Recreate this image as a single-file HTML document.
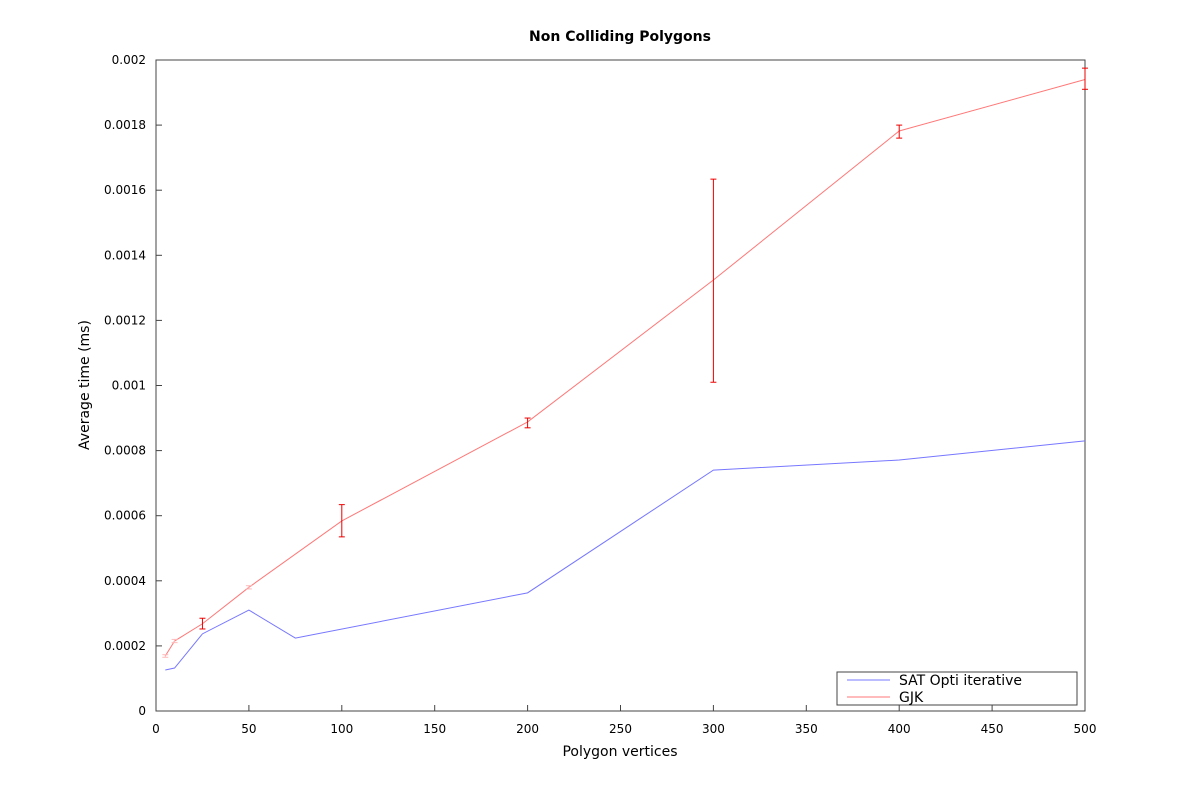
<!DOCTYPE html>
<html><head><meta charset="utf-8"><style>
body{margin:0;background:#fff;}
svg text{font-family:"DejaVu Sans","Liberation Sans",sans-serif;}
</style></head><body>
<svg id="chart" width="1200" height="800" xmlns="http://www.w3.org/2000/svg">
<rect width="1200" height="800" fill="#fff"/>
<text x="620" y="41" text-anchor="middle" font-size="14" font-weight="bold">Non Colliding Polygons</text>
<g id="axes"></g>
<g id="series"></g>
<rect x="837" y="672" width="240" height="33" fill="#fff" stroke="#444"/>
<line x1="847" y1="680" x2="890" y2="680" stroke="#7777ff"/>
<text x="899" y="685" font-size="14">SAT Opti iterative</text>
<line x1="847" y1="697" x2="890" y2="697" stroke="#ff7777"/>
<text x="899" y="702" font-size="14">GJK</text>
<text x="620" y="756" text-anchor="middle" font-size="14">Polygon vertices</text>
<text transform="translate(89,385) rotate(-90)" text-anchor="middle" font-size="14">Average time (ms)</text>
</svg>
<script>
const xTicks=[0,50,100,150,200,250,300,350,400,450,500];
const yTicks=[0,0.0002,0.0004,0.0006,0.0008,0.001,0.0012,0.0014,0.0016,0.0018,0.002];
const yTickLabels=["0","0.0002","0.0004","0.0006","0.0008","0.001","0.0012","0.0014","0.0016","0.0018","0.002"];
const satX=[5,10,25,50,75,200,300,400,500];
const satY=[0.000126,0.000132,0.000237,0.00031,0.000224,0.000363,0.00074,0.000771,0.00083];
const gjkX=[5,10,25,50,100,200,300,400,500];
const gjkY=[0.000169,0.000215,0.000268,0.00038,0.000584,0.000888,0.001324,0.001782,0.00194];
const gjkLo=[0.000165,0.00021,0.000252,0.000375,0.000535,0.00087,0.00101,0.00176,0.00191];
const gjkHi=[0.000173,0.00022,0.000285,0.000385,0.000634,0.0009,0.001634,0.0018,0.001975];
const L=156,R=1085,T=60,B=711;
const sx=v=>L+v/500*(R-L);
const sy=v=>B-v/0.002*(B-T);
const NS="http://www.w3.org/2000/svg";
function mk(tag,attrs,parent,text){const e=document.createElementNS(NS,tag);for(const k in attrs)e.setAttribute(k,attrs[k]);if(text!==undefined)e.textContent=text;parent.appendChild(e);return e;}
const axes=document.getElementById('axes'),ser=document.getElementById('series');
const frame=mk('rect',{x:L,y:T,width:R-L,height:B-T,fill:'none',stroke:'#444'},axes);


xTicks.forEach(t=>{
  const x=sx(t);
  const l=mk('line',{x1:x,y1:B,x2:x,y2:B-6,stroke:'#444'},axes);
  
  
  const tx=mk('text',{x:x,y:B+22,'text-anchor':'middle','font-size':12},axes,String(t));
  
  
});
yTicks.forEach((t,i)=>{
  const y=sy(t);
  const l=mk('line',{x1:L,y1:y,x2:L+6,y2:y,stroke:'#444'},axes);
  
  
  const tx=mk('text',{x:L-10,y:y+4,'text-anchor':'end','font-size':12},axes,yTickLabels[i]);
  
  
});
const gp=mk('polyline',{points:gjkX.map((x,i)=>sx(x)+','+sy(gjkY[i])).join(' '),fill:'none',stroke:'#ff7777','stroke-width':1},ser);


gjkX.forEach((x,i)=>{
  const X=sx(x);
  const small=(sy(gjkLo[i])-sy(gjkHi[i]))<4;
  const g=mk('g',{stroke:small?'#ffbbbb':'#ee0000','stroke-width':1},ser);
  
  
  mk('line',{x1:X,y1:sy(gjkLo[i]),x2:X,y2:sy(gjkHi[i])},g);
  mk('line',{x1:X-3,y1:sy(gjkLo[i]),x2:X+3,y2:sy(gjkLo[i])},g);
  mk('line',{x1:X-3,y1:sy(gjkHi[i]),x2:X+3,y2:sy(gjkHi[i])},g);
});
const sp=mk('polyline',{points:satX.map((x,i)=>sx(x)+','+sy(satY[i])).join(' '),fill:'none',stroke:'#7777ff','stroke-width':1},ser);


</script>
</body></html>
